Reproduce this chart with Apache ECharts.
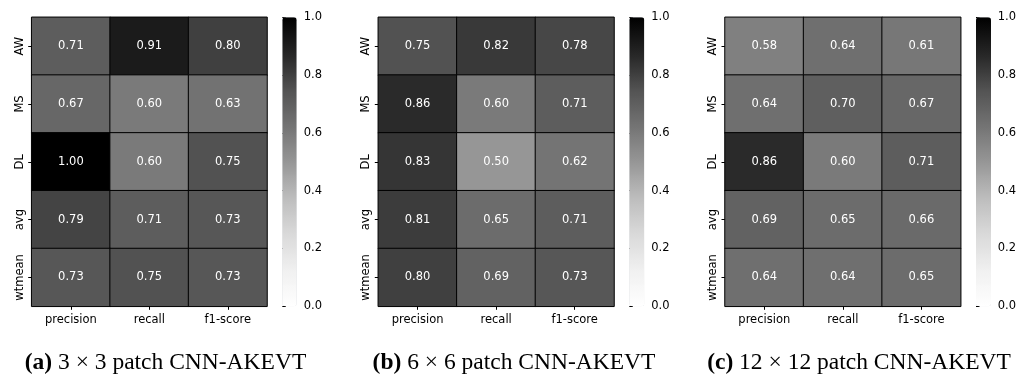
<!DOCTYPE html>
<html>
<head>
<meta charset="utf-8">
<script src="https://cdn.jsdelivr.net/npm/echarts@6/dist/echarts.min.js"></script>
<style>
  html, body { margin: 0; padding: 0; background: #fff; }
  #chart { width: 1019px; height: 381px; }
</style>
</head>
<body>
<div id="chart"></div>
<script>
// Metrics (columns) and classes (rows)
const metrics = ['precision', 'recall', 'f1-score'];
const classes = ['AW', 'MS', 'DL', 'avg', 'wtmean'];

// Scores per class, one row per class, columns follow `metrics`
const scores3x3 = [
  [0.71, 0.91, 0.80],
  [0.67, 0.60, 0.63],
  [1.00, 0.60, 0.75],
  [0.79, 0.71, 0.73],
  [0.73, 0.75, 0.73]
];
const scores6x6 = [
  [0.75, 0.82, 0.78],
  [0.86, 0.60, 0.71],
  [0.83, 0.50, 0.62],
  [0.81, 0.65, 0.71],
  [0.80, 0.69, 0.73]
];
const scores12x12 = [
  [0.58, 0.64, 0.61],
  [0.64, 0.70, 0.67],
  [0.86, 0.60, 0.71],
  [0.69, 0.65, 0.66],
  [0.64, 0.64, 0.65]
];

// Colour-bar tick values
const colorbarTicks = [0, 0.2, 0.4, 0.6, 0.8, 1.0];

const captions = [
  { tag: '(a)', text: ' 3 \u00d7 3 patch CNN-AKEVT' },
  { tag: '(b)', text: ' 6 \u00d7 6 patch CNN-AKEVT' },
  { tag: '(c)', text: ' 12 \u00d7 12 patch CNN-AKEVT' }
];

// Greys colormap stops (white -> black)
const greys = ['#ffffff', '#f0f0f0', '#d9d9d9', '#bdbdbd', '#969696',
               '#737373', '#525252', '#252525', '#000000'];

// Layout of each sub-figure
const panels = [
  { data: scores3x3,   hm: [31.7, 17.3, 235.3, 289], cb: [282.3, 14.4], cap: 165.5 },
  { data: scores6x6,   hm: [378.3, 17.3, 235.7, 289], cb: [629.3, 15], cap: 514 },
  { data: scores12x12, hm: [725, 17.3, 235.7, 289], cb: [976, 15], cap: 859 }
];

const FONT = 'DejaVu Sans';
const grid = [], xAxis = [], yAxis = [], series = [], visualMap = [], graphic = [];

panels.forEach((p, i) => {
  const [l, t, w, h] = p.hm;
  // heatmap grid
  grid.push({ left: l, top: t, width: w, height: h });
  xAxis.push({
    type: 'category', gridIndex: 2 * i, data: metrics, position: 'bottom',
    axisLine: { show: false },
    axisTick: { show: true, alignWithLabel: true, length: 3.5, lineStyle: { color: '#000', width: 1 } },
    axisLabel: { color: '#000', fontFamily: FONT, fontSize: 11.5, margin: 8, interval: 0 },
    splitLine: { show: false }
  });
  yAxis.push({
    type: 'category', gridIndex: 2 * i, data: classes, inverse: true,
    axisLine: { show: false },
    axisTick: { show: true, alignWithLabel: true, length: 3.5, lineStyle: { color: '#000', width: 1 } },
    axisLabel: { color: '#000', fontFamily: FONT, fontSize: 11.5, rotate: 90, margin: 6, interval: 0 },
    splitLine: { show: false }
  });
  const cells = [];
  p.data.forEach((row, r) => row.forEach((v, c) => cells.push([c, r, v])));
  series.push({
    type: 'heatmap', xAxisIndex: 2 * i, yAxisIndex: 2 * i, data: cells,
    itemStyle: { borderColor: '#000', borderWidth: 1 },
    label: {
      show: true, color: '#fff', fontFamily: FONT, fontSize: 11.5,
      formatter: d => d.value[2].toFixed(2)
    },
    emphasis: { disabled: true }
  });
  visualMap.push({
    type: 'continuous', seriesIndex: i, min: 0, max: 1,
    left: p.cb[0], top: t, itemWidth: p.cb[1], itemHeight: h,
    padding: 0, calculable: false, realtime: false, showLabel: false, text: null,
    inRange: { color: greys }, orient: 'vertical'
  });

  // colour-bar scale
  grid.push({ left: p.cb[0], top: t, width: p.cb[1], height: h });
  xAxis.push({ type: 'value', gridIndex: 2 * i + 1, show: false });
  yAxis.push({
    type: 'value', gridIndex: 2 * i + 1, position: 'right',
    min: colorbarTicks[0], max: colorbarTicks[colorbarTicks.length - 1], interval: 0.2,
    axisLine: { show: false },
    axisTick: { show: true, length: 3.5, lineStyle: { color: '#000', width: 1 } },
    axisLabel: { color: '#000', fontFamily: FONT, fontSize: 11.5, margin: 7,
                 formatter: v => v.toFixed(1) },
    splitLine: { show: false }
  });

  graphic.push({
    type: 'text', x: p.cap, y: 363,
    style: {
      text: '{b|' + captions[i].tag + '}{n|' + captions[i].text + '}',
      align: 'center', verticalAlign: 'middle',
      rich: {
        b: { fontFamily: 'Liberation Serif', fontWeight: 'bold', fontSize: 23.5, fill: '#000' },
        n: { fontFamily: 'Liberation Serif', fontSize: 23.5, fill: '#000' }
      }
    }
  });
});

const chart = echarts.init(document.getElementById('chart'), null, { renderer: 'canvas' });
chart.setOption({
  animation: false,
  backgroundColor: '#fff',
  grid, xAxis, yAxis, series, visualMap, graphic
});
</script>
</body>
</html>
